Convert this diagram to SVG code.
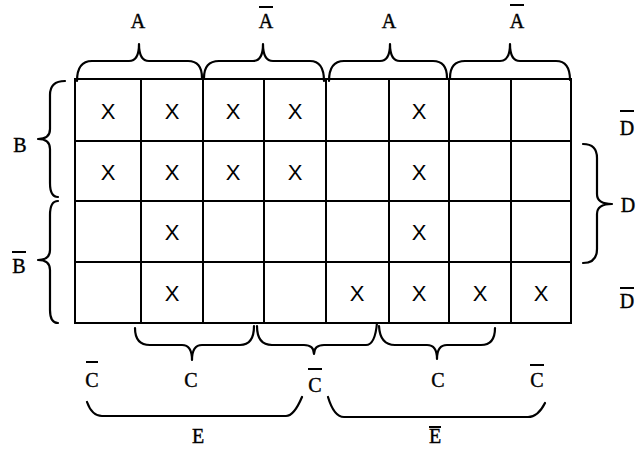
<svg xmlns="http://www.w3.org/2000/svg" width="639" height="451" viewBox="0 0 639 451">
<style>
.grid line{stroke:#000;stroke-width:2;stroke-linecap:square}
.brace{fill:none;stroke:#000;stroke-width:2.2;stroke-linecap:round;stroke-linejoin:round}
.lbl{font-family:"Liberation Serif","Times New Roman",serif;font-size:20px;fill:#000;stroke:#000;stroke-width:0.4;text-anchor:middle}
.bar{stroke:#000;stroke-width:2}
.x{font-family:"Liberation Sans",Arial,sans-serif;font-size:22px;fill:#000;text-anchor:middle}
</style>
<rect width="639" height="451" fill="#fff"/>
<g id="grid" class="grid">
<line x1="75" y1="79" x2="571" y2="79"/>
<line x1="75" y1="141" x2="571" y2="141"/>
<line x1="75" y1="201" x2="571" y2="201"/>
<line x1="75" y1="262" x2="571" y2="262"/>
<line x1="75" y1="323" x2="571" y2="323"/>
<line x1="75" y1="79" x2="75" y2="323"/>
<line x1="141" y1="79" x2="141" y2="323"/>
<line x1="203" y1="79" x2="203" y2="323"/>
<line x1="264" y1="79" x2="264" y2="323"/>
<line x1="326" y1="79" x2="326" y2="323"/>
<line x1="389" y1="79" x2="389" y2="323"/>
<line x1="449" y1="79" x2="449" y2="323"/>
<line x1="511" y1="79" x2="511" y2="323"/>
<line x1="571" y1="79" x2="571" y2="323"/>
</g>
<g id="marks" class="x">
<text x="108" y="119">X</text><text x="172" y="119">X</text><text x="233" y="119">X</text><text x="295" y="119">X</text><text x="419" y="119">X</text>
<text x="108" y="180">X</text><text x="172" y="180">X</text><text x="233" y="180">X</text><text x="295" y="180">X</text><text x="419" y="180">X</text>
<text x="172" y="240">X</text><text x="419" y="240">X</text>
<text x="172" y="301">X</text><text x="357" y="301">X</text><text x="419" y="301">X</text><text x="480" y="301">X</text><text x="541" y="301">X</text>
</g>
<g id="connectors">
<path class="brace" d="M77,81 Q77,61 92,61 L129,61 Q139,61 139,44 Q139,61 149,61 L188,61 Q202,61 202,78"/>
<path class="brace" d="M204,78 Q204,61 219,61 L253,61 Q263,61 263,44 Q263,61 273,61 L310,61 Q324,61 324,81"/>
<path class="brace" d="M329,81 Q329,61 344,61 L380,61 Q390,61 390,44 Q390,61 400,61 L433,61 Q447,61 447,78"/>
<path class="brace" d="M450,78 Q450,61 465,61 L500,61 Q510,61 510,44 Q510,61 520,61 L556,61 Q570,61 570,80"/>
<path class="brace" d="M65,81 Q50,81 50,95 L50,129 Q50,139 38,139 Q50,139 50,149 L50,183 Q50,197 58,197"/>
<path class="brace" d="M58,201 Q50,201 50,215 L50,250 Q50,260 38,260 Q50,260 50,270 L50,310 Q50,323 58,323"/>
<path class="brace" d="M583,144 Q597,144 597,158 L597,194 Q597,204 612,204 Q597,204 597,214 L597,249 Q597,263 583,263"/>
<path class="brace" d="M135,328 Q135,345 150,345 L182,345 Q192,345 192,360 Q192,345 202,345 L240,345 Q254,345 254,326"/>
<path class="brace" d="M257,326 Q257,345 272,345 L304,345 Q314,345 314,354 Q314,345 324,345 L366,345 Q375,345 377,323"/>
<path class="brace" d="M379,326 Q380,345 395,345 L427,345 Q437,345 437,359 Q437,345 447,345 L481,345 Q495,345 495,328"/>
<path class="brace" d="M87,402 Q92,416 102,416 L286,416 Q294,416 302,397"/>
<path class="brace" d="M328,397 Q334,417 344,417 L528,417 Q538,417 545,403"/>
</g>
<g id="labels">
<text class="lbl" x="138" y="28">A</text>
<text class="lbl" x="266" y="28">A</text><line class="bar" x1="259" y1="7" x2="273" y2="7"/>
<text class="lbl" x="389" y="28">A</text>
<text class="lbl" x="517" y="28">A</text><line class="bar" x1="510" y1="5" x2="524" y2="5"/>
<text class="lbl" x="20" y="152">B</text>
<text class="lbl" x="19" y="273">B</text><line class="bar" x1="12" y1="252" x2="26" y2="252"/>
<text class="lbl" x="627" y="135">D</text><line class="bar" x1="620" y1="111" x2="634" y2="111"/>
<text class="lbl" x="628" y="212">D</text>
<text class="lbl" x="627" y="308">D</text><line class="bar" x1="620" y1="288" x2="634" y2="288"/>
<text class="lbl" x="92" y="387">C</text><line class="bar" x1="86" y1="362" x2="98" y2="362"/>
<text class="lbl" x="191" y="387">C</text>
<text class="lbl" x="315" y="392">C</text><line class="bar" x1="308" y1="369" x2="322" y2="369"/>
<text class="lbl" x="438" y="387">C</text>
<text class="lbl" x="537" y="387">C</text><line class="bar" x1="530" y1="365" x2="544" y2="365"/>
<text class="lbl" x="198" y="443">E</text>
<text class="lbl" x="435" y="443">E</text><line class="bar" x1="429" y1="427" x2="441" y2="427"/>
</g>
</svg>
